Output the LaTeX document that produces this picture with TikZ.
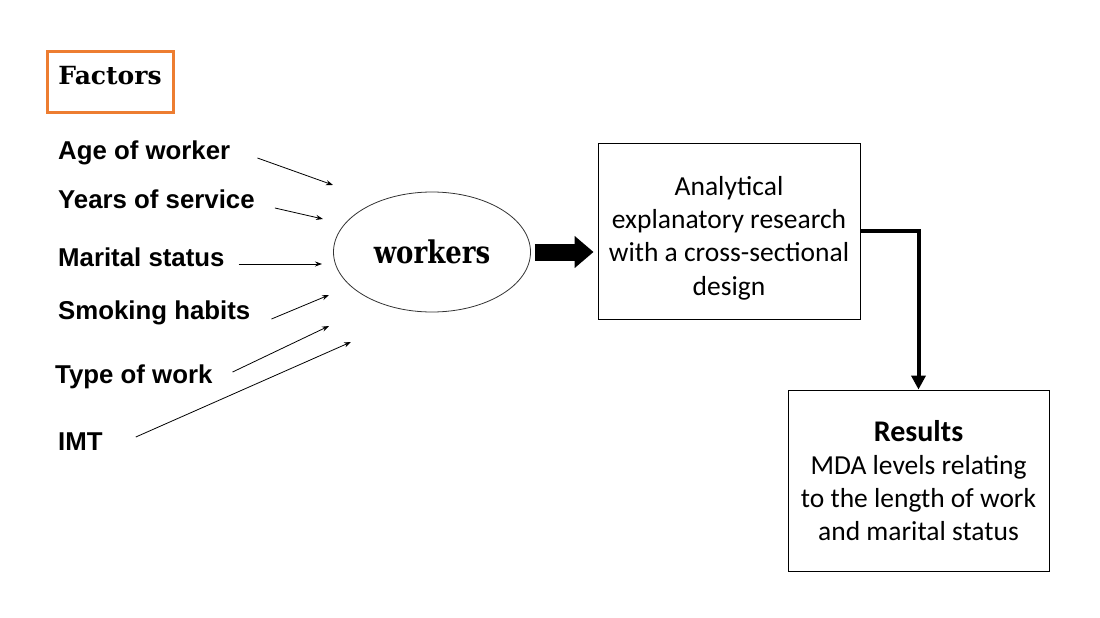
\documentclass[tikz,border=0pt]{standalone}
\usepackage{fontspec}
\setmainfont{Liberation Sans}
\newfontfamily\carlito{Carlito}
\newfontfamily\dserif{DejaVu Serif}
\usetikzlibrary{arrows.meta,shapes.geometric}
\definecolor{forange}{HTML}{ED7D31}
\tikzset{
  factor/.style={anchor=west, inner sep=0pt, font=\fontsize{25.8}{30}\selectfont\bfseries},
  thinarrow/.style={line width=0.8pt, -{Stealth[length=7pt,width=5pt]}},
  boxtext/.style={draw, line width=0.9pt, align=center, font=\carlito\fontsize{27.5}{33.2}\selectfont}
}
\begin{document}
\begin{tikzpicture}[x=1pt,y=-1pt]
\useasboundingbox (0,0) rectangle (1100,618);
% Factors box
\node[draw=forange, line width=3pt, minimum width=126pt, minimum height=60pt, inner sep=0pt,
      text depth=14pt, font=\dserif\bfseries\fontsize{25}{28}\selectfont] (factors) at (110,82) {Factors};
% factor labels
\node[factor] (age) at (58,153) {Age of worker};
\node[factor] (yrs) at (58,199) {Years of service};
\node[factor] (mar) at (58,257) {Marital status};
\node[factor] (smk) at (58,313) {Smoking habits};
\node[factor] (typ) at (55,377) {Type of work};
\node[factor] (imt) at (58,442) {IMT};
% ellipse
\node[ellipse, draw=black!80, line width=0.8pt, minimum width=197pt, minimum height=120pt, inner sep=0pt,
      font=\dserif\bfseries\fontsize{26}{30}\selectfont] (wrk) at (432,252) {\scalebox{1}[1.2]{workers}};
% end coordinates
\coordinate (e1) at (333,185);
\coordinate (e2) at (323,219);
\coordinate (e3) at (322,264);
\coordinate (e4) at (329,295);
\coordinate (e5) at (329,326);
\coordinate (e6) at (351,342);
\draw[thinarrow] ([xshift=27pt,yshift=-5pt]age.east) -- (e1);
\draw[thinarrow] ([xshift=20pt,yshift=-9pt]yrs.east) -- (e2);
\draw[thinarrow] ([xshift=14pt,yshift=-7pt]mar.east) -- (e3);
\draw[thinarrow] ([xshift=21pt,yshift=-6pt]smk.east) -- (e4);
\draw[thinarrow] ([xshift=20pt,yshift=5pt]typ.east) -- (e5);
\draw[thinarrow] ([xshift=33pt,yshift=5pt]imt.east) -- (e6);
% analysis box
\node[boxtext, minimum width=262pt, minimum height=176pt, inner sep=0pt] (ana) at (729,231)
  {\rule{0pt}{6pt}\\[-6pt]Analytical\\explanatory research\\with a cross-sectional\\design};
% results box
\node[boxtext, minimum width=261pt, minimum height=181pt, inner sep=0pt] (res) at (918.5,480.5)
  {{\bfseries\fontsize{30}{33.2}\selectfont Results}\\MDA levels relating\\to the length of work\\and marital status};
% thick arrow
\draw[line width=17pt, -{Triangle[length=19pt,width=31pt]}] ([xshift=4pt]wrk.east) -- ([xshift=-4pt]wrk.east -| ana.west);
% elbow
\draw[line width=4pt, -{Triangle[length=14pt,width=14pt]}] (ana.east) -| (res.north);
\end{tikzpicture}
\end{document}
